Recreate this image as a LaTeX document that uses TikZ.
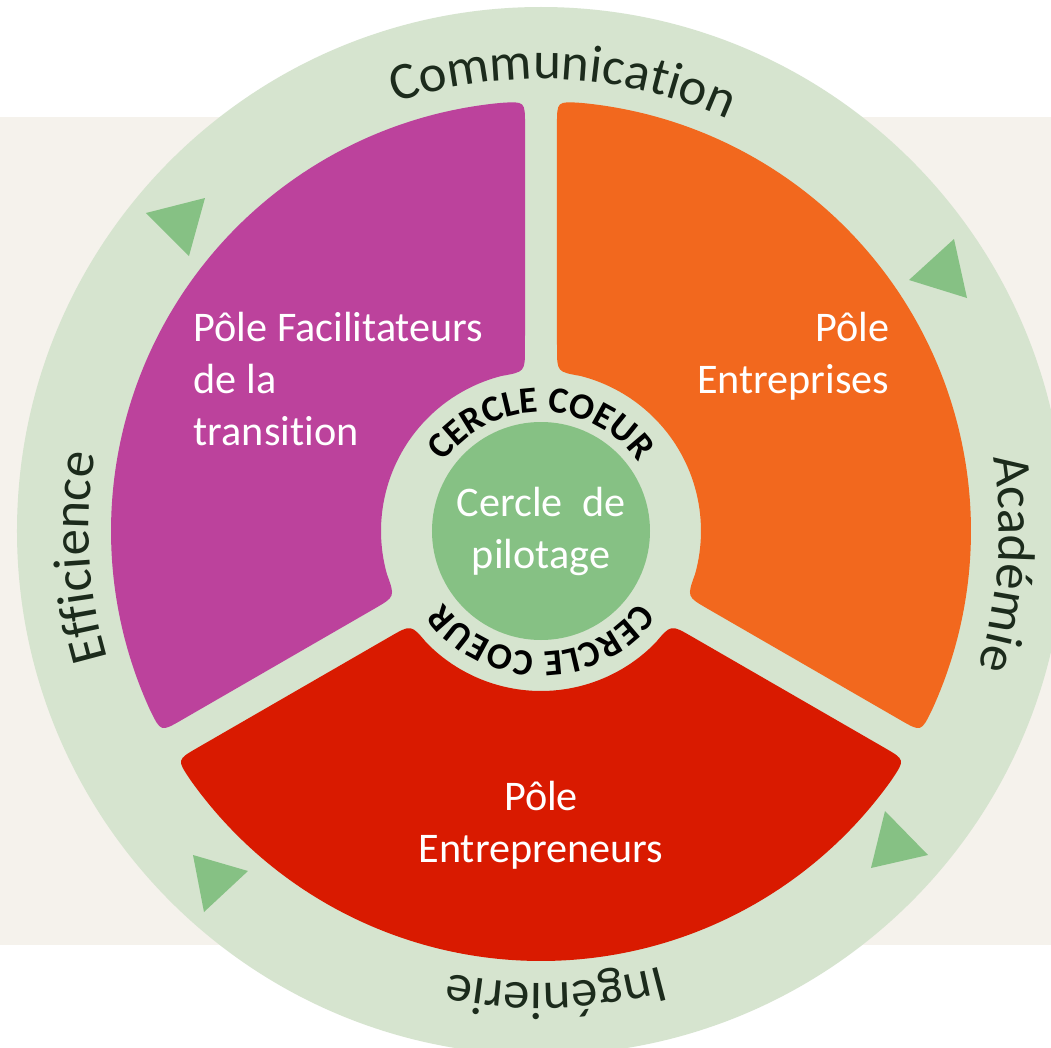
\documentclass[tikz,border=0pt]{standalone}
\usepackage{fontspec}
\setmainfont{Carlito}[Ligatures=NoCommon]
\usepackage{tikz}
\usetikzlibrary{calc,decorations.text}

\definecolor{fond}{HTML}{F5F2EC}
\definecolor{anneau}{HTML}{D6E4CF}
\definecolor{vertpilote}{HTML}{86C184}
\definecolor{encre}{HTML}{1C2B1C}
\definecolor{polefacil}{HTML}{BC429C}
\definecolor{poleentr}{HTML}{F2681E}
\definecolor{poleneurs}{HTML}{D91A00}

\newcommand{\ringfont}{\fontsize{15}{18}\selectfont}
\newcommand{\coeurfont}{\fontsize{10.5}{12}\selectfont\bfseries}

\begin{document}
\begin{tikzpicture}[
    x=0.01cm, y=0.01cm,
    secteur/.style={fill=#1},
    fleche/.style={fill=vertpilote},
    poletext/.style={text=white, inner sep=0pt, font=\fontsize{12}{14.8}\selectfont},
    ringtext/.style={decorate, decoration={text along path, text align=center,
        text color=encre, text={|\ringfont|#1}}},
    coeurtext/.style={decorate, decoration={text along path, text align=center,
        text color=black, text={|\coeurfont|#1}}}
  ]
    \useasboundingbox[fill=white] (-541,-517) rectangle (510,531);
    \fill[fond] (-541,-414) rectangle (510,414);
    \fill[anneau] (0,0) circle[radius=524];

    % the three poles (gap angles, corner cut and its angles)
    \def\gin{5.74}
    \def\gout{2.13}
    \def\rr{24}
    \def\dout{3.2}
    \def\din{8.6}
    \foreach \a/\col in {90/polefacil, -30/poleentr, 210/poleneurs} {
      \fill[secteur=\col]
        ($(\a+\gin:160)+(\a:\rr)$) -- ($(\a+\gout:430)-(\a:\rr)$)
        .. controls (\a+\gout:430) .. (\a+\gout+\dout:430)
        arc[start angle=\a+\gout+\dout, end angle=\a+120-\gout-\dout, radius=430]
        .. controls (\a+120-\gout:430) .. ($(\a+120-\gout:430)-(\a+120:\rr)$)
        -- ($(\a+120-\gin:160)+(\a+120:\rr)$)
        .. controls (\a+120-\gin:160) .. (\a+120-\gin-\din:160)
        arc[start angle=\a+120-\gin-\din, end angle=\a+\gin+\din, radius=160]
        .. controls (\a+\gin:160) .. ($(\a+\gin:160)+(\a:\rr)$) -- cycle;
    }

    % arrows round the ring
    \fill[fleche] (-395,318) -- (-336,333) -- (-352,275) -- cycle;
    \fill[fleche] (368,251) -- (413,292) -- (426,233) -- cycle;
    \fill[fleche] (330,-337) -- (344,-280) -- (387,-324) -- cycle;
    \fill[fleche] (-348,-324) -- (-293,-340) -- (-337,-381) -- cycle;

    % ring words
    \path[ringtext=Communication] (147.2:452) arc[start angle=147.2, end angle=27.2, radius=452];
    \path[ringtext=Académie] (56:458) arc[start angle=56, end angle=-64, radius=458];
    \path[ringtext=Ingénierie] (331.8:452) arc[start angle=331.8, end angle=211.8, radius=452];
    \path[ringtext=Efficience] (243.3:452) arc[start angle=243.3, end angle=123.3, radius=452];

    % centre
    \fill[vertpilote] (0,0) circle[radius=109];
    \path[coeurtext=CERCLE COEUR] (170:119) arc[start angle=170, end angle=10, radius=119];
    \path[coeurtext=CERCLE COEUR] (350:121) arc[start angle=350, end angle=190, radius=121];

    \node[poletext, align=left, anchor=north west] (facil) at (-348,220)
      {Pôle Facilitateurs\\de la\\transition};
    \node[poletext, align=right, anchor=north east] (entreprises) at (349,220)
      {Pôle\\Entreprises};
    \node[poletext, align=center, anchor=north] (entrepreneurs) at (0,-249)
      {Pôle\\Entrepreneurs};
    \node[poletext, align=center, anchor=north] (pilotage) at (0,45)
      {Cercle\ \ de\\pilotage};
\end{tikzpicture}
\end{document}
